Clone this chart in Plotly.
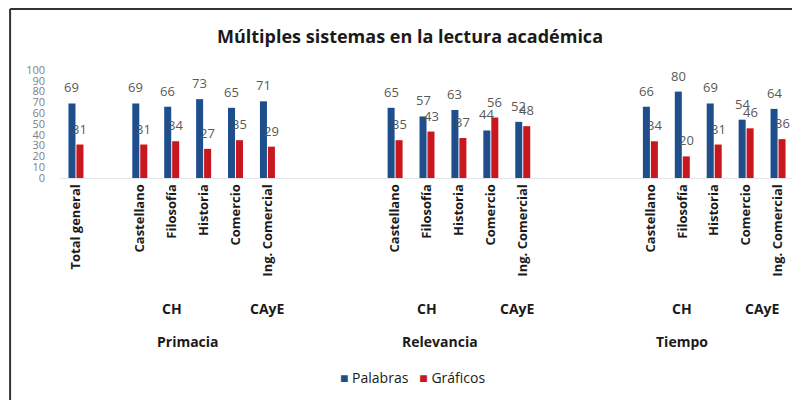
import plotly.graph_objects as go

# ---------------- data ----------------
title_text = "Múltiples sistemas en la lectura académica"
series_names = ["Palabras", "Gráficos"]
dimensions = ["Primacia", "Relevancia", "Tiempo"]
subjects = ["Castellano", "Filosofía", "Historia", "Comercio", "Ing. Comercial"]
areas = ["CH", "CAyE"]
total_label = "Total general"
total_palabras = 69
total_graficos = 31
palabras_primacia = [69, 66, 73, 65, 71]
graficos_primacia = [31, 34, 27, 35, 29]
palabras_relevancia = [65, 57, 63, 44, 52]
graficos_relevancia = [35, 43, 37, 56, 48]
palabras_tiempo = [66, 80, 69, 54, 64]
graficos_tiempo = [34, 20, 31, 46, 36]
y_ticks = list(range(0, 101, 10))

# ---------------- build category slots ----------------
palabras_by_dim = [palabras_primacia, palabras_relevancia, palabras_tiempo]
graficos_by_dim = [graficos_primacia, graficos_relevancia, graficos_tiempo]

keys, ticktext, pal, gra = [], [], [], []
keys.append(total_label); ticktext.append(total_label)
pal.append(total_palabras); gra.append(total_graficos)
gap_counts = [1, 3, 3]
gid = 0
dim_start = []
for d, dim in enumerate(dimensions):
    for _ in range(gap_counts[d]):
        keys.append(f"_gap{gid}"); ticktext.append(""); pal.append(None); gra.append(None)
        gid += 1
    dim_start.append(len(keys))
    for s, subj in enumerate(subjects):
        keys.append(f"{dim}|{subj}"); ticktext.append(subj)
        pal.append(palabras_by_dim[d][s]); gra.append(graficos_by_dim[d][s])

BLUE = "#1F4E8C"
RED = "#C8171E"
FONT = "Open Sans"
DARK = "#1a1a1a"

fig = go.Figure()
fig.add_trace(go.Bar(name=series_names[0], x=keys, y=pal, marker=dict(color=BLUE, line=dict(width=0))))
fig.add_trace(go.Bar(name=series_names[1], x=keys, y=gra, marker=dict(color=RED, line=dict(width=0))))

annotations = []
# data labels
for vals, shift in ((pal, -4), (gra, 4)):
    for k, v in zip(keys, vals):
        if v is None:
            continue
        annotations.append(dict(x=k, y=v, xref="x", yref="y", text=str(v), showarrow=False,
                                xshift=shift, yshift=16, yanchor="middle",
                                font=dict(family=FONT, size=13, color="#595959")))

# group labels (second and third level of the category axis)
area_offsets = [[1.0, 4.0], [1.0, 3.85], [1.0, 3.5]]
dim_offsets = [1.5, 1.4, 1.0]
for d, dim in enumerate(dimensions):
    for a, area in enumerate(areas):
        annotations.append(dict(x=dim_start[d] + area_offsets[d][a], y=-1.205, xref="x", yref="paper",
                                text=f"<b>{area}</b>", showarrow=False, yanchor="middle",
                                font=dict(family=FONT, size=14, color=DARK)))
    annotations.append(dict(x=dim_start[d] + dim_offsets[d], y=-1.51, xref="x", yref="paper",
                            text=f"<b>{dim}</b>", showarrow=False, yanchor="middle",
                            font=dict(family=FONT, size=14, color=DARK)))

# legend drawn as text (small squares right before the names, as in the reference)
legend_text = (f"<span style='color:{BLUE}'>■</span> {series_names[0]}"
               f"   <span style='color:{RED}'>■</span> {series_names[1]}")
annotations.append(dict(x=0.48, y=-1.85, xref="paper", yref="paper", text=legend_text,
                        showarrow=False, xanchor="center", yanchor="middle",
                        font=dict(family=FONT, size=14, color=DARK)))

shapes = [
    dict(type="line", xref="paper", yref="paper", x0=-0.068, x1=1.2, y0=1.565, y1=1.565,
         line=dict(color="#333333", width=2)),
    dict(type="line", xref="paper", yref="paper", x0=-0.068, x1=-0.068, y0=1.565, y1=-2.3,
         line=dict(color="#333333", width=2)),
]

fig.update_layout(
    width=800, height=400,
    margin=dict(l=52, r=14, t=62, b=230),
    paper_bgcolor="white", plot_bgcolor="white",
    barmode="group", bargap=0.5, bargroupgap=0.12,
    title=dict(text=f"<b>{title_text}</b>", x=402 / 800, xanchor="center", y=1 - 29 / 400,
               yanchor="middle", yref="container",
               font=dict(family=FONT, size=18, color=DARK)),
    xaxis=dict(type="category", categoryorder="array", categoryarray=keys,
               tickmode="array", tickvals=keys, ticktext=[f"<b>{t}</b>" if t else "" for t in ticktext],
               tickangle=-90, tickfont=dict(family=FONT, size=13, color=DARK),
               showgrid=False, showline=True, linecolor="#e6e6e6", ticks="", zeroline=False),
    yaxis=dict(range=[0, 100], tickmode="array", tickvals=y_ticks, showgrid=False,
               tickfont=dict(family=FONT, size=11, color="#808080"), zeroline=False,
               ticklabelstandoff=14),
    annotations=annotations,
    shapes=shapes,
    showlegend=False,
)

fig.write_html("out.html")
